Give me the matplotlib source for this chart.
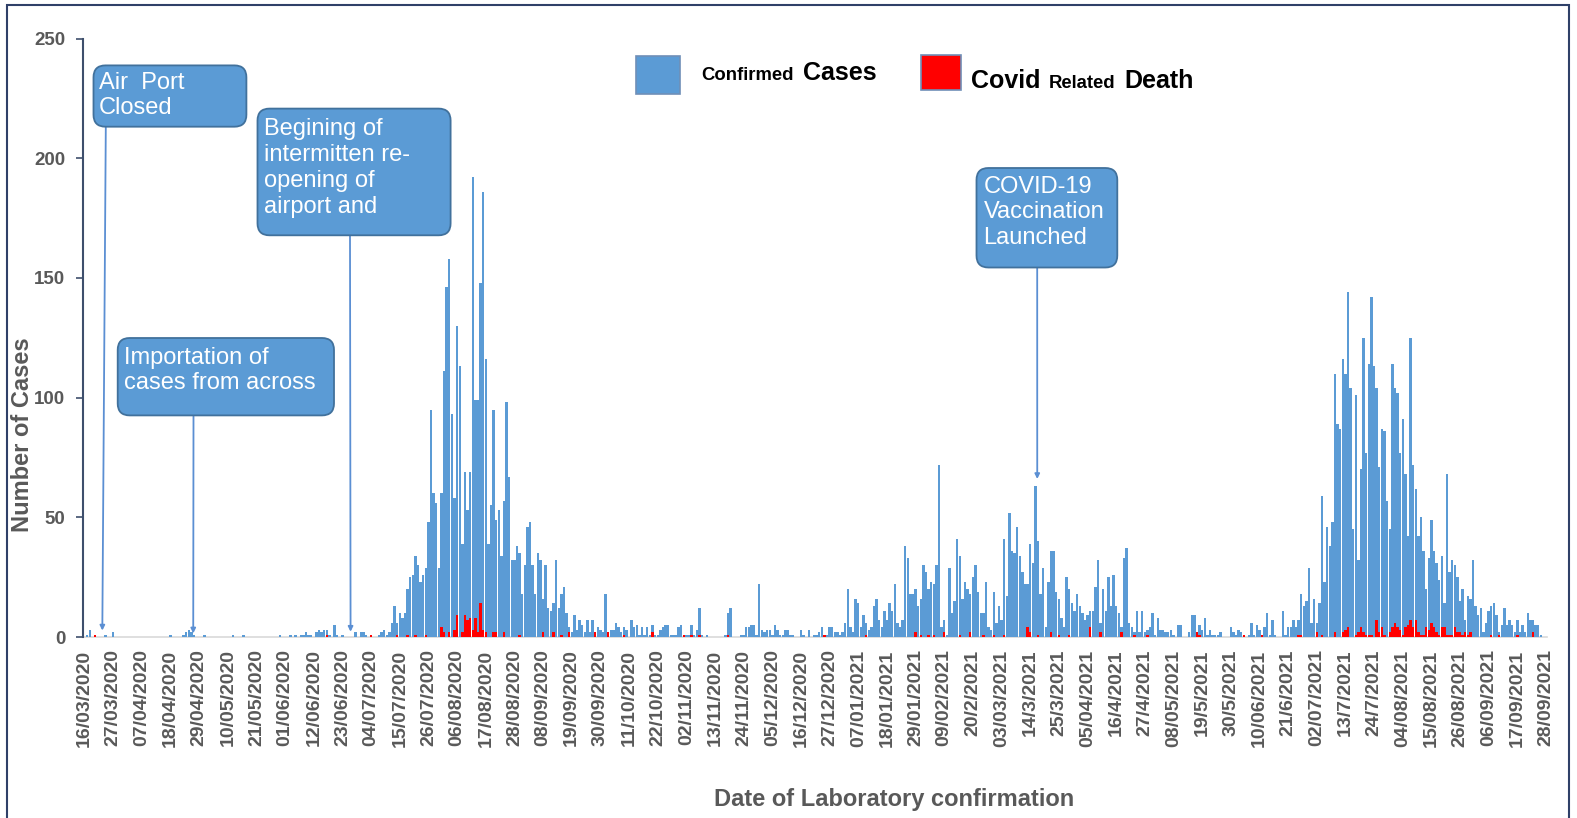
import numpy as np
import matplotlib
matplotlib.use("Agg")
import matplotlib.pyplot as plt
from matplotlib.patches import FancyBboxPatch, Rectangle
from matplotlib.transforms import IdentityTransform

plt.rcParams['font.family'] = ['Liberation Sans', 'DejaVu Sans']

# ---------------- data (daily, starting 16/03/2020) ----------------
cases_mar_jul_2020 = [
    0, 1, 3, 0, 1, 0, 0, 0, 1, 0, 0, 2,
    0, 0, 0, 0, 0, 0, 0, 0, 0, 0, 0, 0, 0, 0, 0, 0, 0, 0, 0, 0, 0,
    1, 0, 0, 0, 0,
    1, 2, 3, 2, 1,
    0, 0, 0,
    1,
    0, 0, 0, 0, 0, 0, 0, 0, 0, 0,
    1,
    0, 0, 0,
    1,
    0, 0, 0, 0, 0, 0, 0, 0, 0, 0, 0, 0, 0,
    1,
    0, 0, 0, 1,
    0, 1, 0, 1, 1, 2, 1, 1, 0,
    2, 3, 2, 3, 3, 1, 0, 5, 1, 0, 1, 0, 0, 0, 0,
    2, 0, 2, 2, 1, 0, 1, 0, 0, 1, 2, 3, 1]

cases_wave1 = [
    2, 6, 13, 6, 10, 8, 10, 20, 25, 26, 34, 30, 23, 26, 29, 48, 95, 60, 56, 29,
    60, 111, 146, 158, 93, 58, 130, 113, 39, 69, 53, 69, 192, 99, 99, 148, 186, 116, 39, 55,
    95, 49, 53, 34, 57, 98,
    67, 32, 32, 38, 35, 18, 30, 46, 48, 30, 18, 35, 32, 16, 30, 12, 11, 14, 32, 12,
    18, 21, 10, 4, 2, 9, 3, 7, 5, 2, 7, 2, 7, 2, 4, 3, 2, 18, 2, 3, 3, 6, 4, 2]

cases_lull1 = [
    4, 3, 0, 7, 4, 5, 1, 4, 1, 4, 1, 5, 1, 1, 3, 4, 5, 5, 1, 1,
    1, 4, 5, 1, 1, 1, 5, 1, 3, 12, 1, 0, 1, 0, 0, 0, 0, 0, 0, 1,
    10, 12, 0, 0, 0, 1, 1, 4, 4, 5, 5, 1, 22, 3, 2, 3, 3, 1, 5, 3,
    1, 1, 3, 3, 1, 1, 0, 0, 3, 1, 0, 3, 0, 1, 1, 2, 4, 1, 1, 4, 4]

cases_wave2 = [
    2, 2, 1, 2, 6, 20, 4, 2, 16, 14, 4, 9, 6, 3, 4, 13, 16, 7, 4, 11,
    7, 14, 11, 22, 6, 4, 7, 38, 33, 18, 18, 20, 13, 16, 30, 27, 20, 23, 22, 30,
    72, 4, 7, 1, 29, 10, 15, 41, 34, 16, 23, 20, 18, 25, 30, 19, 10, 10, 23,
    4, 3, 19, 6, 13, 7, 41, 17, 52, 36, 35, 46, 34, 27, 22, 22, 39, 31, 63, 40,
    18, 29, 4, 23, 36, 36, 19, 16, 8, 4, 25, 20, 14, 11, 18, 13, 10, 7, 9, 11,
    11, 21, 32, 6, 20, 11, 25, 13, 26, 13, 10, 4, 33, 37, 6, 4, 2, 11, 2, 11, 2]

cases_lull2 = [
    3, 4, 10, 1, 8, 3, 3, 2, 2, 3, 1, 0, 5, 5, 0, 0, 2, 9, 9, 2,
    5, 3, 8, 1, 3, 1, 1, 1, 2, 0, 0, 0, 4, 2, 1, 3, 2, 1, 0, 1,
    6, 1, 5, 3, 1, 4, 10, 1, 7, 1, 0, 0, 11, 1, 4, 4, 7, 4]

cases_wave3 = [
    7, 18, 13, 15, 29, 6, 16, 6, 14, 59, 23, 46, 38, 48, 110, 89, 87, 116, 110, 144,
    104, 45, 101, 32, 70, 125, 77, 114, 142, 113, 104, 71, 87, 86, 57, 45, 114, 104, 102, 77,
    91, 68, 42,
    125, 72, 62, 42, 50, 36, 20, 33, 49, 36, 31, 24, 34, 14, 68, 27, 32, 30, 25, 15,
    20, 7, 17, 16, 32, 13, 9, 12, 2, 6, 11, 13, 14, 9, 2, 5, 12, 5, 7, 5,
    2, 7, 2, 5, 2, 10, 7, 7, 5, 5, 1, 0, 0]

deaths_mar_jul_2020 = [
    0, 0, 0, 0, 1, 0, 0, 0, 0, 0,
    0, 0, 0, 0, 0, 0, 0, 0, 0, 0,
    0, 0, 0, 0, 0, 0, 0, 0, 0, 0,
    0, 0, 0, 0, 0, 0, 0, 0, 0, 0,
    0, 0, 0, 0, 0, 0, 0, 0, 0, 0,
    0, 0, 0, 0, 0, 0, 0, 0, 0, 0,
    0, 0, 0, 0, 0, 0, 0, 0, 0, 0,
    0, 0, 0, 0, 0, 0, 0, 0, 0, 0,
    0, 0, 0, 0, 0, 0, 0, 0, 0, 0,
    0, 0, 0, 1, 0, 0, 0, 0, 0, 0,
    0, 0, 0, 0, 0, 0, 0, 0, 0, 0,
    1, 0, 0, 0, 0, 0, 0]

deaths_wave1 = [
    0, 0, 0, 1, 0, 0, 0, 1, 0, 0,
    1, 0, 0, 0, 1, 0, 0, 0, 0, 0,
    4, 2, 0, 2, 0, 3, 9, 0, 2, 9,
    7, 8, 3, 8, 2, 14, 3, 2, 0, 0,
    2, 2, 0, 0, 2, 0, 0, 0, 0, 0,
    1, 0, 0, 0, 0, 0, 0, 0, 0, 2,
    0, 0, 0, 2, 0, 0, 1, 0, 0, 2,
    0, 0, 0, 0, 0, 0, 0, 0, 0, 2,
    0, 0, 0, 0, 2, 0, 0, 0, 0, 0]

deaths_lull1 = [
    1, 0, 0, 0, 0, 0, 0, 0, 0, 0,
    0, 2, 0, 0, 0, 0, 0, 0, 0, 0,
    0, 0, 0, 1, 0, 0, 1, 0, 0, 1,
    0, 0, 0, 0, 0, 0, 0, 0, 0, 0,
    1, 0, 0, 0, 0, 0, 0, 0, 0, 0,
    0, 0, 0, 0, 0, 0, 0, 0, 0, 0,
    0, 0, 0, 0, 0, 0, 0, 0, 0,
    0, 0, 0, 0, 0, 0, 0, 0, 1, 0,
    0, 0]

deaths_wave2 = [
    0, 0, 0, 0, 0, 0, 0, 0, 0, 0,
    0, 0, 1, 0, 0, 0, 0, 0, 0, 0,
    0, 0, 0, 0, 0, 0, 0, 0, 0, 0,
    0, 2, 0, 1, 0, 0, 1, 0, 1, 0,
    0, 0, 2, 0, 0, 0, 0, 0, 1, 0,
    0, 0, 2, 0, 0, 0, 0, 1, 0, 0,
    0, 1, 0, 0, 0, 1, 0, 0, 0, 0,
    0, 0, 0, 0, 4, 2, 0, 0, 1, 0,
    0, 0, 0, 2, 0, 0, 1, 0, 0, 0,
    1, 0, 0, 0, 0, 0, 0, 0, 4, 0,
    0, 0, 2, 0, 0, 0, 0, 0, 0, 0,
    2, 0, 0, 0, 0, 1, 0, 0, 0, 0]

deaths_lull2 = [
    1, 0, 0, 0, 0, 0, 0, 0, 0, 0,
    0, 0, 0, 0, 0, 0, 0, 0, 0,
    2, 1, 0, 0, 0, 0, 0, 0, 0, 0,
    0, 0, 0, 0, 0, 0, 0, 0, 1, 0,
    0, 0, 0, 0, 0, 1, 0, 0, 0, 0,
    0, 0, 0, 0, 0, 0, 0, 0, 0]

deaths_wave3 = [
    1, 1, 0, 0, 0, 0, 0, 2, 0, 1,
    0, 0, 0, 0, 2, 0, 0, 2, 3, 4,
    0, 0, 1, 2, 4, 2, 1, 1, 1, 0,
    7, 2, 4, 1, 0, 2, 4, 6, 4, 3,
    1, 4, 5, 7, 4, 7, 2, 1, 1, 4,
    3, 6, 4, 2, 1, 4, 4, 1, 1, 1,
    4, 2, 2, 1, 2, 1, 2, 0, 0, 0,
    0, 0, 0, 0, 1, 0, 0, 1, 0, 0,
    0, 0, 0, 0, 1, 0, 0, 0, 0, 0,
    2, 0, 0, 0, 0, 0]

date_labels = [
    "16/03/2020", "27/03/2020", "07/04/2020", "18/04/2020", "29/04/2020", "10/05/2020",
    "21/05/2020", "01/06/2020", "12/06/2020", "23/06/2020", "04/07/2020", "15/07/2020",
    "26/07/2020", "06/08/2020", "17/08/2020", "28/08/2020", "08/09/2020", "19/09/2020",
    "30/09/2020", "11/10/2020", "22/10/2020", "02/11/2020", "13/11/2020", "24/11/2020",
    "05/12/2020", "16/12/2020", "27/12/2020", "07/01/2021", "18/01/2021", "29/01/2021",
    "09/02/2021", "20/2/2021", "03/03/2021", "14/3/2021", "25/3/2021", "05/04/2021",
    "16/4/2021", "27/4/2021", "08/05/2021", "19/5/2021", "30/5/2021", "10/06/2021",
    "21/6/2021", "02/07/2021", "13/7/2021", "24/7/2021", "04/08/2021", "15/08/2021",
    "26/08/2021", "06/09/2021", "17/09/2021", "28/09/2021"]

y_ticks = [0, 50, 100, 150, 200, 250]

# events: (text, day index of the pointed bar, value at arrow tip)
event_texts = ["Air  Port\nClosed", "Importation of\ncases from across",
               "Begining of\nintermitten re-\nopening of\nairport and",
               "COVID-19\nVaccination\nLaunched"]
event_days = [6.8, 41.7, 102.1, 365.7]
event_tip_values = [2.7, 1.5, 2.2, 66]

cases = (cases_mar_jul_2020 + cases_wave1 + cases_lull1 + cases_wave2
         + cases_lull2 + cases_wave3)
deaths = (deaths_mar_jul_2020 + deaths_wave1 + deaths_lull1 + deaths_wave2
          + deaths_lull2 + deaths_wave3)
assert len(cases) == len(deaths), (len(cases), len(deaths))

# ---------------- styling ----------------
W, H = 1577, 818
BLUE = '#5B9BD5'
RED = '#FF0000'
GREY = '#595959'
SPINE = '#3E4F6C'
label_interval = 11

def fx(px):
    return px / W

def fy(py):
    return 1 - py / H

fig = plt.figure(figsize=(W / 100, H / 100), dpi=100)
fig.patch.set_facecolor('white')

ax_left, ax_right, ax_top, ax_bottom = 83.3, 1547.3, 38.5, 637.0
ax = fig.add_axes([fx(ax_left), fy(ax_bottom), fx(ax_right) - fx(ax_left),
                   fy(ax_top) - fy(ax_bottom)])

days = np.arange(len(cases))
ax.bar(days, cases, width=0.92, color=BLUE, linewidth=0, zorder=2)
ax.bar(days, deaths, width=0.92, color=RED, linewidth=0, zorder=3)

ax.set_xlim(-0.5, len(date_labels) * label_interval - label_interval + 0.5)
ax.set_ylim(0, 250)

tick_pos = np.arange(len(date_labels)) * label_interval
ax.set_xticks(tick_pos)
ax.set_xticklabels(date_labels, rotation=90, fontsize=14, fontweight='bold',
                   color=GREY)
ax.tick_params(axis='x', length=0, pad=9)
ax.set_yticks(y_ticks)
ax.set_yticklabels([str(v) for v in y_ticks], fontsize=13.5, fontweight='bold',
                   color=GREY)
ax.tick_params(axis='y', length=5, width=1.2, color=SPINE, pad=8)

for s in ['top', 'right']:
    ax.spines[s].set_visible(False)
ax.spines['left'].set_color(SPINE)
ax.spines['left'].set_linewidth(1.5)
ax.spines['bottom'].set_color('#D9D9D9')
ax.spines['bottom'].set_linewidth(1.2)
ax.spines['bottom'].set_zorder(1)

ax.set_xlabel("Date of Laboratory confirmation", fontsize=17, fontweight='bold',
              color=GREY)
ax.xaxis.set_label_coords((894 - ax_left) / (ax_right - ax_left),
                          (ax_bottom - 799.5) / (ax_bottom - ax_top))
ax.xaxis.label.set_va('center')
ax.set_ylabel("Number of Cases", fontsize=17, fontweight='bold', color=GREY)
ax.yaxis.set_label_coords((22.1 - ax_left) / (ax_right - ax_left),
                          (ax_bottom - 434.5) / (ax_bottom - ax_top))
ax.yaxis.label.set_va('center')

# ---------------- callouts ----------------
boxes = [(93.5, 65.4, 246.4, 126.7), (117.7, 338.0, 334.0, 415.4),
         (257.5, 108.6, 450.6, 235.3), (976.5, 168.0, 1117.3, 267.5)]
text_pos = [(98.6, 95.5), (124.0, 370.5), (264.5, 168.0), (983.5, 212.5)]
arrow_start = [(105.8, 126.7), (193.5, 415.4), (350.0, 235.3), (1037.2, 267.5)]

r = 12
for (x0, y0, x1, y1), txt, (tx, ty), (sx, sy), d, v in zip(
        boxes, event_texts, text_pos, arrow_start, event_days, event_tip_values):
    ax.annotate('', xy=(d, v), xycoords='data', xytext=(fx(sx), fy(sy)),
                textcoords='figure fraction', annotation_clip=False,
                arrowprops=dict(arrowstyle='-|>', color='#5B8FD3', lw=1.3,
                                mutation_scale=7, shrinkA=0, shrinkB=0),
                zorder=5)
    box = FancyBboxPatch((x0 + r, H - y1 + r), (x1 - x0) - 2 * r, (y1 - y0) - 2 * r,
                         boxstyle=f"round,pad={r},rounding_size={r}",
                         transform=IdentityTransform(), facecolor=BLUE,
                         edgecolor='#41719C', linewidth=1.3, zorder=6)
    fig.add_artist(box)
    fig.text(fx(tx), fy(ty), txt, fontsize=17, color='white', ha='left',
             va='center', linespacing=1.22, zorder=7)

# ---------------- legend ----------------
fig.add_artist(Rectangle((635.6, H - 93.5), 44.3, 37.2, transform=IdentityTransform(),
                         facecolor=BLUE, edgecolor='#6F8FB8', linewidth=1.2))
fig.add_artist(Rectangle((921.0, H - 89.5), 39.5, 34.2, transform=IdentityTransform(),
                         facecolor=RED, edgecolor='#6F8FB8', linewidth=1.2))
legend_parts = [("Confirmed", 701.0, 80.5, 13.3), ("Cases", 802.5, 80.5, 18),
                ("Covid", 970.5, 88.0, 18), ("Related", 1049.0, 88.0, 13.3),
                ("Death", 1124.4, 88.0, 18)]
for s, x, y, fs in legend_parts:
    fig.text(fx(x), fy(y), s, fontsize=fs, fontweight='bold', color='black',
             ha='left', va='baseline')

# ---------------- frame ----------------
fig.add_artist(Rectangle((7.3, -5), 1562, H - 5 + 5, transform=IdentityTransform(),
                         facecolor='none', edgecolor='#2F4068', linewidth=1.5))

fig.savefig('out.png', dpi=100)
